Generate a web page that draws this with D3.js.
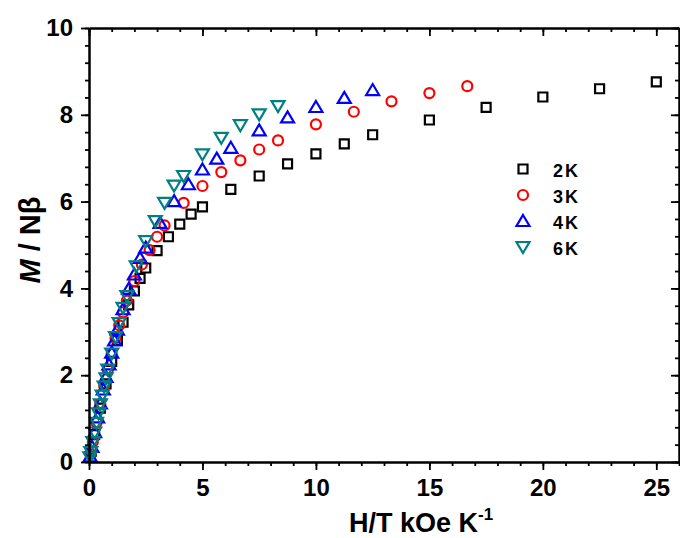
<!DOCTYPE html>
<html>
<head>
<meta charset="utf-8">
<script src="https://cdn.jsdelivr.net/npm/d3@7"></script>
<style>
  body { margin: 0; background: #fff; }
  svg text { font-family: "Liberation Sans", Arial, sans-serif; font-weight: bold; }
</style>
</head>
<body>
<div class="canva"></div>
<script>
var width = 680;
var height = 538;

// series data, x = H/T (kOe/K), y = M / Nbeta
const x2K = [25, 22.5, 20, 17.5, 15, 12.5, 11.25, 10, 8.75, 7.5, 6.25, 5, 4.5, 4, 3.5, 3, 2.5, 2.25, 2, 1.75, 1.5, 1.25, 1, 0.75, 0.5, 0.25, 0.1];
const y2K = [8.76, 8.60, 8.41, 8.17, 7.88, 7.54, 7.33, 7.10, 6.87, 6.59, 6.28, 5.88, 5.71, 5.48, 5.19, 4.87, 4.47, 4.23, 3.94, 3.62, 3.22, 2.80, 2.32, 1.80, 1.24, 0.63, 0.25];

const x3K = [16.67, 15, 13.33, 11.67, 10, 8.33, 7.5, 6.67, 5.83, 5, 4.17, 3.33, 3, 2.67, 2.33, 2, 1.67, 1.5, 1.33, 1.17, 1, 0.83, 0.67, 0.5, 0.33, 0.17, 0.07];
const y3K = [8.66, 8.50, 8.31, 8.07, 7.78, 7.41, 7.20, 6.95, 6.68, 6.36, 5.97, 5.45, 5.19, 4.88, 4.55, 4.17, 3.72, 3.45, 3.15, 2.85, 2.50, 2.12, 1.75, 1.33, 0.90, 0.46, 0.18];

const x4K = [12.5, 11.25, 10, 8.75, 7.5, 6.25, 5.63, 5, 4.38, 3.75, 3.13, 2.5, 2.25, 2, 1.75, 1.5, 1.25, 1.13, 1, 0.88, 0.75, 0.63, 0.5, 0.38, 0.25, 0.13, 0.05];
const y4K = [8.57, 8.39, 8.18, 7.94, 7.64, 7.24, 6.99, 6.74, 6.40, 6.01, 5.51, 4.94, 4.70, 4.32, 3.99, 3.52, 3.05, 2.80, 2.52, 2.25, 1.96, 1.67, 1.35, 1.03, 0.69, 0.35, 0.13];

const x6K = [8.33, 7.5, 6.67, 5.83, 5, 4.17, 3.75, 3.33, 2.92, 2.5, 2.08, 1.67, 1.5, 1.33, 1.17, 1, 0.83, 0.75, 0.67, 0.58, 0.5, 0.42, 0.33, 0.25, 0.17, 0.08, 0.04];
const y6K = [8.20, 8.01, 7.76, 7.47, 7.09, 6.59, 6.37, 5.97, 5.55, 5.09, 4.51, 3.82, 3.55, 3.20, 2.88, 2.50, 2.13, 1.93, 1.74, 1.53, 1.33, 1.12, 0.90, 0.68, 0.46, 0.23, 0.11];

const seriesNames = ['2K', '3K', '4K', '6K'];
const xTicks = [0, 5, 10, 15, 20, 25];
const yTicks = [0, 2, 4, 6, 8, 10];

const series = [
  {name: '2K', xs: x2K, ys: y2K, color: '#000000', shape: 'square'},
  {name: '3K', xs: x3K, ys: y3K, color: '#ff0000', shape: 'circle'},
  {name: '4K', xs: x4K, ys: y4K, color: '#0000ff', shape: 'up'},
  {name: '6K', xs: x6K, ys: y6K, color: '#008080', shape: 'down'}
];

const mLeft = 89, mRight = 679, mTop = 28, mBottom = 462;

const x = d3.scaleLinear().domain([0, 26]).range([mLeft, mRight]);
const y = d3.scaleLinear().domain([0, 10]).range([mBottom, mTop]);

const svg = d3.select('.canva').append('svg')
            .attr('width', width)
            .attr('height', height);

// marker path generator, centred at 0,0
function markerPath(shape) {
  if (shape === 'square') return 'M-4.5,-4.5H4.5V4.5H-4.5Z';
  if (shape === 'circle') return 'M5,0A5,5 0 1,1 -5,0A5,5 0 1,1 5,0Z';
  if (shape === 'up') return 'M0,-6L6.5,5H-6.5Z';
  return 'M0,6L6.5,-5H-6.5Z';
}

// data points
series.forEach(s => {
  const pts = s.xs.map((v, i) => ({x: v, y: s.ys[i]}));
  svg.append('g').selectAll('path')
    .data(pts)
    .enter().append('path')
    .attr('d', markerPath(s.shape))
    .attr('transform', d => `translate(${x(d.x)},${y(d.y)})`)
    .attr('fill', 'none')
    .attr('stroke', s.color)
    .attr('stroke-width', 2.2);
});

// axes
function styleAxis(g) {
  g.select('.domain').attr('stroke', '#000').attr('stroke-width', 2);
  g.selectAll('.tick line').attr('stroke', '#000').attr('stroke-width', 1.8);
  g.selectAll('.tick text').attr('font-size', 24).attr('fill', '#000');
}

const xMinor = d3.range(0, 26.01, 1);
const yMinor = d3.range(0, 10.01, 0.4);

svg.append('g').attr('transform', `translate(0,${mBottom})`)
  .call(d3.axisBottom(x).tickValues(xMinor).tickSize(4).tickSizeOuter(0).tickFormat(''))
  .call(styleAxis);
svg.append('g').attr('transform', `translate(0,${mBottom})`)
  .call(d3.axisBottom(x).tickValues(xTicks).tickSize(8).tickSizeOuter(0).tickPadding(9))
  .call(styleAxis);

svg.append('g').attr('transform', `translate(${mLeft},0)`)
  .call(d3.axisLeft(y).tickValues(yMinor).tickSize(4).tickSizeOuter(0).tickFormat(''))
  .call(styleAxis);
svg.append('g').attr('transform', `translate(${mLeft},0)`)
  .call(d3.axisLeft(y).tickValues(yTicks).tickSize(8).tickSizeOuter(0).tickPadding(8))
  .call(styleAxis);

// top and right, ticks inward
svg.append('g').attr('transform', `translate(0,${mTop})`)
  .call(d3.axisTop(x).tickValues(xMinor).tickSize(-4).tickSizeOuter(0).tickFormat(''))
  .call(styleAxis);
svg.append('g').attr('transform', `translate(0,${mTop})`)
  .call(d3.axisTop(x).tickValues(xTicks).tickSize(-8).tickSizeOuter(0).tickFormat(''))
  .call(styleAxis);
svg.append('g').attr('transform', `translate(${mRight},0)`)
  .call(d3.axisRight(y).tickValues(yMinor).tickSize(-4).tickSizeOuter(0).tickFormat(''))
  .call(styleAxis);
svg.append('g').attr('transform', `translate(${mRight},0)`)
  .call(d3.axisRight(y).tickValues(yTicks).tickSize(-8).tickSizeOuter(0).tickFormat(''))
  .call(styleAxis);

// axis titles
const xt = svg.append('text')
  .attr('x', 349).attr('y', 532)
  .attr('font-size', 27)
  .text('H/T kOe K');
xt.append('tspan').attr('font-size', 17).attr('dy', -12).text('-1');

const yt = svg.append('text')
  .attr('transform', 'translate(40,240) rotate(-90)')
  .attr('text-anchor', 'middle')
  .attr('font-size', 29);
yt.append('tspan').attr('font-style', 'italic').text('M');
yt.append('tspan').text(' / N\u03b2');

// legend
const legend = svg.append('g');
series.forEach((s, i) => {
  const ly = 169 + i * 26;
  legend.append('path')
    .attr('d', markerPath(s.shape))
    .attr('transform', `translate(523,${ly})`)
    .attr('fill', 'none')
    .attr('stroke', s.color)
    .attr('stroke-width', 2.2);
  legend.append('text')
    .attr('x', 553).attr('y', ly + 8)
    .attr('font-size', 18)
    .attr('letter-spacing', 2)
    .text(seriesNames[i]);
});
</script>
</body>
</html>
